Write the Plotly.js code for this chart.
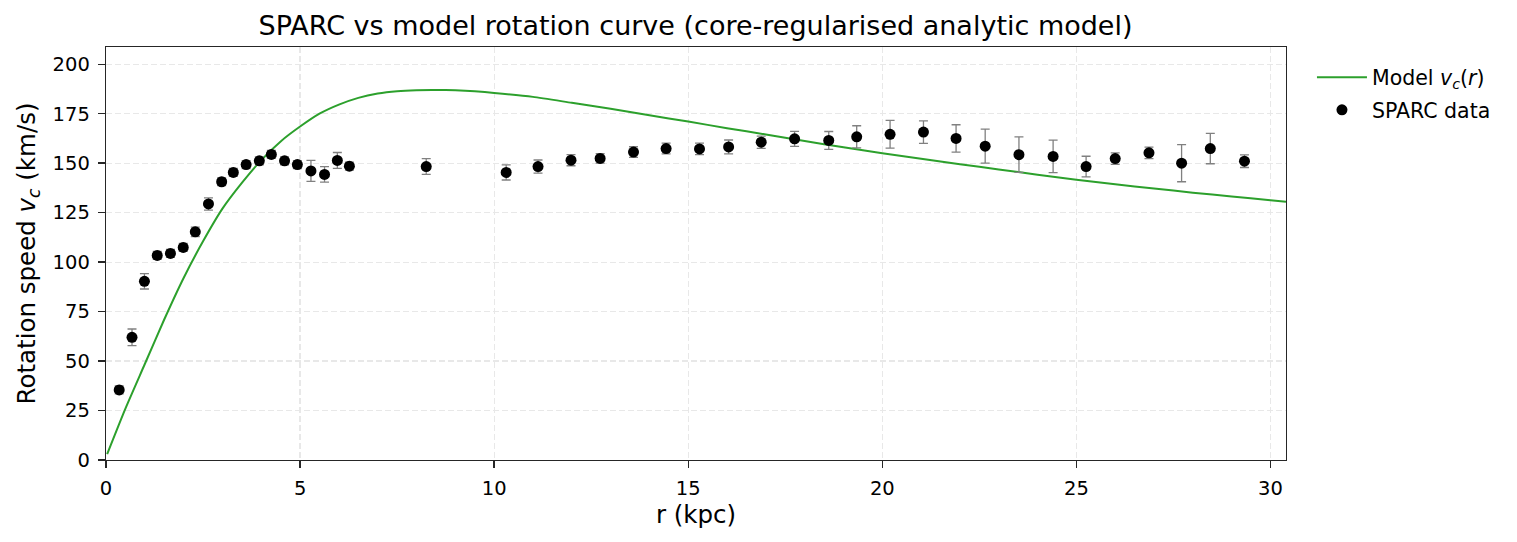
<!DOCTYPE html>
<html>
<head>
<meta charset="utf-8">
<script src="https://cdn.plot.ly/plotly-3.0.1.min.js"></script>
<style>html,body{margin:0;padding:0;background:#fff;}#chart{width:1517px;height:542px;}</style>
</head>
<body>
<div id="chart"></div>
<script>
// SPARC data points
const rData = [0.34, 0.67, 0.99, 1.32, 1.66, 1.99, 2.30, 2.64, 2.98, 3.28, 3.61, 3.95, 4.26, 4.60, 4.93, 5.28, 5.63, 5.96, 6.27,
  8.25,
  10.31, 11.13, 11.98, 12.73, 13.59, 14.43, 15.29, 16.04, 16.88, 17.74, 18.62, 19.34, 20.20, 21.06, 21.90, 22.65, 23.52, 24.40, 25.25, 26.00, 26.87, 27.71, 28.45, 29.33];
const vData = [35.4, 62, 90.3, 103.4, 104.4, 107.4, 115.3, 129.4, 140.6, 145.3, 149.3, 151.2, 154.4, 151.2, 149.3, 146.1, 144.3, 151.4, 148.5,
  148.3,
  145.3, 148.3, 151.5, 152.4, 155.6, 157.4, 157.2, 158.2, 160.6, 162.3, 161.5, 163.3, 164.6, 165.7, 162.5, 158.6, 154.3, 153.4, 148.3, 152.3, 155.2, 150.0, 157.4, 151.0];
const vErr = [2, 4.2, 3.9, 2, 2, 2, 2.4, 3.1, 2, 2, 2, 2, 2, 2, 2, 5.3, 3.9, 4, 2,
  4,
  3.8, 3.3, 2.8, 2.4, 2.7, 2.7, 2.9, 3.5, 3.1, 3.8, 4.5, 5.6, 7.0, 5.7, 6.9, 8.6, 9.0, 8.2, 5.2, 2.9, 2.9, 9.4, 7.7, 3.2];

// Model curve
const rModel = [0.03, 0.5, 1.0, 1.5, 2.0, 2.5, 3.0, 3.5, 4.0, 4.5, 5.0, 5.5, 6.0, 6.5, 7.0, 7.5, 8.0, 8.5, 9.0, 9.5, 10,
  11, 12, 13, 14, 15, 16, 17, 18, 19, 20, 21, 22, 23, 24, 25, 26, 27, 28, 29, 30, 30.4];
const vModel = [3, 26, 48.5, 71, 92, 110.5, 127, 140, 151.5, 161, 168.5, 175, 179.6, 183, 185.2, 186.4, 186.9, 187, 186.8, 186.3, 185.5,
  183.5, 180.5, 177.5, 174.2, 171, 167.7, 164.5, 161.2, 158, 155, 152.2, 149.5, 146.8, 144.2, 141.6, 139.3, 137.2, 135.1, 133.2, 131.3, 130.5];

const xTicks = [0, 5, 10, 15, 20, 25, 30];
const yTicks = [0, 25, 50, 75, 100, 125, 150, 175, 200];

const FONT = 'DejaVu Sans, sans-serif';

const traces = [
  {
    x: rModel, y: vModel, type: 'scatter', mode: 'lines',
    name: 'Model <i>v</i><sub><i>c</i></sub>(<i>r</i>)', legendgroup: 'a',
    line: {color: '#2ca02c', width: 2, shape: 'spline', smoothing: 0.6}
  },
  {
    x: rData, y: vData, type: 'scatter', mode: 'markers',
    name: 'SPARC data', legendgroup: 'b',
    marker: {color: '#000000', size: 11},
    error_y: {type: 'data', array: vErr, visible: true, color: '#808080', thickness: 1.3, width: 4.5}
  }
];

const axisCommon = {
  showline: true, mirror: true, linecolor: '#262626', linewidth: 1.3,
  ticks: 'outside', ticklen: 7, tickwidth: 1.4, tickcolor: '#262626',
  showgrid: true, gridcolor: '#e8e8e8', griddash: '6px,3px', gridwidth: 1.2,
  zeroline: false,
  tickfont: {family: FONT, size: 19.5, color: '#000'}
};

const layout = {
  width: 1517, height: 542,
  paper_bgcolor: '#fff', plot_bgcolor: '#fff',
  margin: {l: 106, r: 231, t: 47, b: 82},
  title: {text: 'SPARC vs model rotation curve (core-regularised analytic model)',
    font: {family: FONT, size: 27, color: '#000'}, x: 0.4585, xanchor: 'center', y: 0.952, yanchor: 'middle'},
  xaxis: Object.assign({}, axisCommon, {
    range: [0, 30.4], tickvals: xTicks, ticktext: xTicks.map(String),
    ticklabelstandoff: 3,
    title: {text: 'r (kpc)', font: {family: FONT, size: 24.5, color: '#000'}, standoff: 6}
  }),
  yaxis: Object.assign({}, axisCommon, {
    range: [0, 208.7], tickvals: yTicks, ticktext: yTicks.map(String),
    ticklabelstandoff: 4,
    title: {text: 'Rotation speed <i>v</i><sub><i>c</i></sub> (km/s)', font: {family: FONT, size: 24.5, color: '#000'}, standoff: 10}
  }),
  showlegend: true,
  legend: {x: 1.022, y: 0.975, xanchor: 'left', yanchor: 'top', bgcolor: 'rgba(0,0,0,0)', borderwidth: 0,
    font: {family: FONT, size: 20.5, color: '#000'}, tracegroupgap: 3, itemwidth: 50}
};

Plotly.newPlot('chart', traces, layout, {displayModeBar: false, staticPlot: true});
</script>
</body>
</html>
